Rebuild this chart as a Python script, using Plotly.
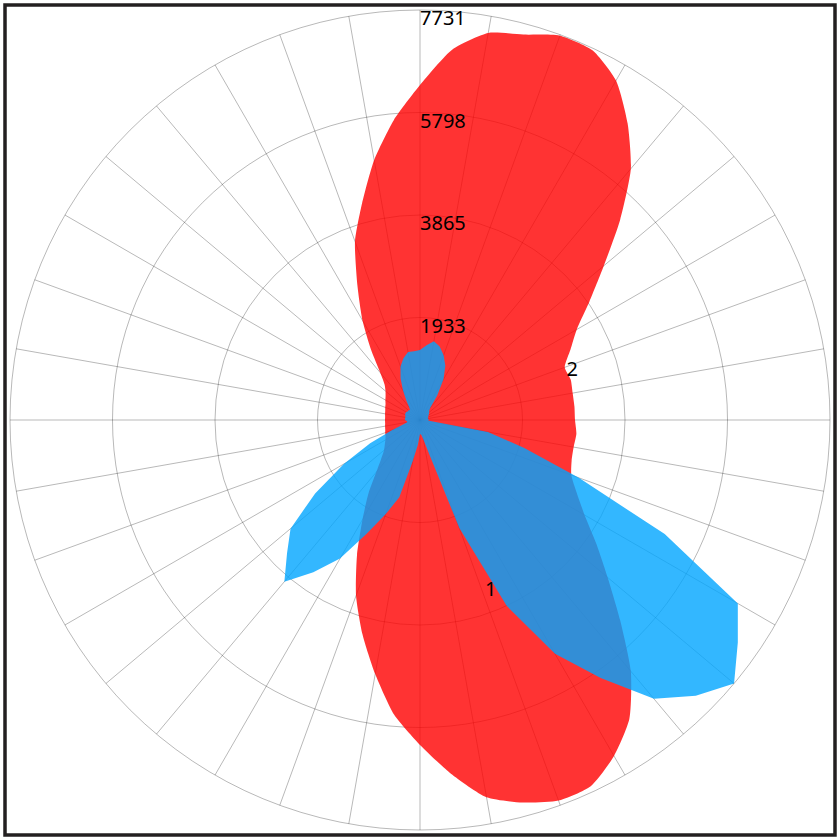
import plotly.graph_objects as go

# angles in degrees, counter-clockwise from east
theta = list(range(0, 360, 5))

# series "2" (red)
r_red = [
    2923, 2923, 2923, 2942, 2904, 3130, 3413, 3903, 4525, 5336, 6185, 6826,
    7392, 7693, 7712, 7524, 7410, 7014, 6317, 5676, 4978, 4224, 3583, 2791,
    2168, 1603, 1169, 943, 849, 792, 754, 717, 698, 679, 669, 660,
    660, 660, 669, 679, 698, 717, 754, 811, 886, 1037, 1282, 1697,
    2168, 2810, 3526, 4186, 4865, 5581, 6128, 6694, 7222, 7467, 7637, 7618,
    7316, 6882, 6185, 5336, 4620, 4054, 3583, 3262, 3036, 2960, 2942, 2960,
]

# series "1" (blue)
r_blue = [
    151, 170, 151, 151, 170, 170, 189, 207, 226, 245, 302, 566,
    886, 1131, 1301, 1433, 1508, 1414, 1320, 1301, 1301, 1207, 1075, 867,
    641, 453, 321, 264, 283, 283, 302, 302, 302, 283, 283, 283,
    283, 245, 245, 339, 566, 1037, 1659, 2414, 3187, 3545, 3979, 3507,
    3017, 2357, 1886, 1508, 792, 471, 264, 283, 377, 660, 2168, 3865,
    5091, 5940, 6864, 7354, 7731, 7316, 6920, 5091, 3187, 2036, 1301, 170,
]

series_names = ["1", "2"]
label_theta = [292.5, 18]
label_r = [3488, 3017]

r_max = 7731
tick_vals = [1932.75, 3865.5, 5798.25, 7731]
tick_text = ["1933", "3865", "5798", "7731"]
tick_angle = 90

fig = go.Figure()

fig.add_trace(
    go.Scatterpolar(
        r=r_red + r_red[:1], theta=theta + theta[:1], name=series_names[1],
        mode="lines", fill="toself", fillcolor="rgba(255,0,0,0.8)",
        line=dict(width=0, shape="spline", smoothing=0.6),
    )
)
fig.add_trace(
    go.Scatterpolar(
        r=r_blue + r_blue[:1], theta=theta + theta[:1], name=series_names[0],
        mode="lines", fill="toself", fillcolor="rgba(0,165,255,0.8)",
        line=dict(width=0),
    )
)
# series labels
fig.add_trace(
    go.Scatterpolar(
        r=label_r, theta=label_theta, text=series_names, mode="text",
        textfont=dict(size=20, color="black"),
    )
)
# radial tick labels, below-right of each ring on the vertical spoke
fig.add_trace(
    go.Scatterpolar(
        r=tick_vals, theta=[tick_angle] * len(tick_vals), text=tick_text,
        mode="text", textposition="bottom right", cliponaxis=False,
        textfont=dict(size=20, color="black"),
    )
)

grid = "rgba(0,0,0,0.28)"
fig.update_layout(
    width=840, height=840,
    margin=dict(l=0, r=0, t=0, b=0),
    paper_bgcolor="white",
    showlegend=False,
    font=dict(family="Noto Sans", size=20, color="black"),
    polar=dict(
        domain=dict(x=[10 / 840, 830 / 840], y=[10 / 840, 830 / 840]),
        bgcolor="white",
        radialaxis=dict(
            range=[0, r_max], tickvals=tick_vals, showticklabels=False,
            angle=tick_angle, ticks="", showline=False,
            gridcolor=grid, gridwidth=1,
        ),
        angularaxis=dict(
            dtick=10, showticklabels=False, ticks="",
            gridcolor=grid, gridwidth=1, linecolor=grid, linewidth=1,
        ),
    ),
    shapes=[
        dict(type="rect", xref="paper", yref="paper",
             x0=5 / 840, x1=835 / 840, y0=5 / 840, y1=835 / 840,
             line=dict(color="#231f20", width=3.5))
    ],
)

fig.write_html(
    "out.html",
    config={"displayModeBar": False},
    post_script="document.body.style.margin='0';",
)
